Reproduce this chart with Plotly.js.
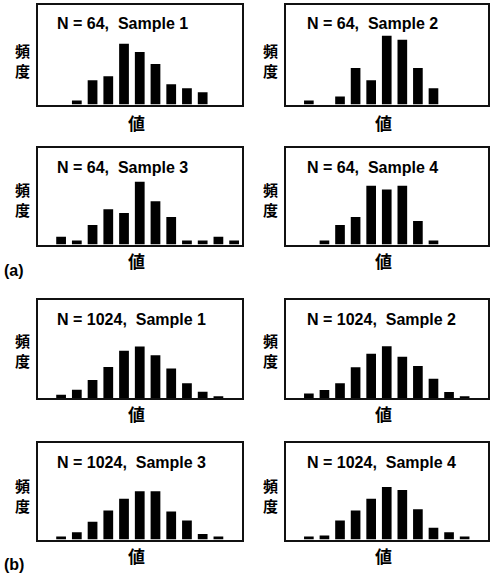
<!DOCTYPE html>
<html>
<head>
<meta charset="utf-8">
<script src="https://cdn.plot.ly/plotly-3.0.1.min.js"></script>
<style>html,body{margin:0;padding:0;background:#fff}#chart{width:492px;height:576px}</style>
</head>
<body>
<div id="chart"></div>
<script>
// ---- data (counts per bin, 13 bins) ----
const bins = [0,1,2,3,4,5,6,7,8,9,10,11,12];
const n64_s1 = [0,0,1,6,7,15,13,10,5,4,3,0,0];
const n64_s2 = [0,1,0,2,9,6,17,16,9,4,0,0,0];
const n64_s3 = [0,2,1,5,9,8,16,11,7,1,1,2,1];
const n64_s4 = [0,0,1,5,7,15,14,15,6,1,0,0,0];
const n1024_s1 = [0,13,33,73,125,190,208,172,119,59,25,7,0];
const n1024_s2 = [0,18,32,59,124,178,209,166,129,78,24,7,0];
const n1024_s3 = [0,12,30,73,119,167,198,197,115,78,23,12,0];
const n1024_s4 = [0,12,16,78,119,167,215,203,124,48,30,12,0];
const panelTitles = ["N = 64,\u00a0\u00a0Sample 1","N = 64,\u00a0\u00a0Sample 2","N = 64,\u00a0\u00a0Sample 3","N = 64,\u00a0\u00a0Sample 4",
                     "N = 1024,\u00a0\u00a0Sample 1","N = 1024,\u00a0\u00a0Sample 2","N = 1024,\u00a0\u00a0Sample 3","N = 1024,\u00a0\u00a0Sample 4"];
const yLabel = "頻<br>度", xLabel = "値";
const groupLabels = ["(a)","(b)"];

const series = [n64_s1,n64_s2,n64_s3,n64_s4,n1024_s1,n1024_s2,n1024_s3,n1024_s4];
const yMax = [24.6,24.6,24.6,24.6,395,395,395,395];

// ---- layout geometry (pixels) ----
const W = 492, H = 576;
const fx = p => p / W, fy = p => 1 - p / H;
const cols = [[37.5,242],[285.5,488]];
const rows = [[5,104.5],[148,244.5],[300,398],[443,539.5]];
const ylOff = [5.5,3.5,1.5,3.8];
const xlOff = [18,16,15.5,16];
const ylX = [22,270], xlX = [136,383];

const data = [], annotations = [];
const layout = {
  width: W, height: H, margin: {l:0,r:0,t:0,b:0},
  paper_bgcolor: '#fff', plot_bgcolor: '#fff', showlegend: false,
  font: {family: 'Liberation Sans, Arial, sans-serif', color: '#000'}
};
const cjkY = {family: 'Noto Sans CJK JP, sans-serif', size: 15, color: '#000', weight: 'bold'};
const cjkX = {family: 'Noto Sans CJK JP, sans-serif', size: 17, color: '#000', weight: 'bold'};

for (let i = 0; i < 8; i++) {
  const r = Math.floor(i / 2), c = i % 2;
  const sfx = i === 0 ? '' : String(i + 1);
  data.push({
    type: 'bar', x: bins, y: series[i], width: 0.62,
    marker: {color: '#000', line: {width: 0}},
    xaxis: 'x' + sfx, yaxis: 'y' + sfx, hoverinfo: 'skip'
  });
  const ax = {showline: true, mirror: true, linewidth: 2, linecolor: '#111',
              showgrid: false, zeroline: false, ticks: '', showticklabels: false, fixedrange: true};
  layout['xaxis' + sfx] = Object.assign({}, ax, {domain: [fx(cols[c][0]), fx(cols[c][1])], range: [-0.5, 12.5], anchor: 'y' + sfx});
  layout['yaxis' + sfx] = Object.assign({}, ax, {domain: [fy(rows[r][1]), fy(rows[r][0])], range: [0, yMax[i]], anchor: 'x' + sfx});

  const top = rows[r][0], bot = rows[r][1], mid = (top + bot) / 2;
  annotations.push({xref:'paper', yref:'paper', x: fx(cols[c][0] + (c ? 19.5 : 17.5)), y: fy(top + 19),
    xanchor:'left', yanchor:'middle', showarrow:false, text: panelTitles[i],
    font:{family:'Liberation Sans, Arial, sans-serif', size:16, color:'#000', weight:'bold'}});
  annotations.push({xref:'paper', yref:'paper', x: fx(ylX[c]), y: fy(mid + ylOff[r]), xanchor:'center', yanchor:'middle',
    showarrow:false, text: yLabel, font: cjkY});
  annotations.push({xref:'paper', yref:'paper', x: fx(xlX[c]), y: fy(bot + xlOff[r]), xanchor:'center', yanchor:'middle',
    showarrow:false, text: xLabel, font: cjkX});
}
annotations.push({xref:'paper', yref:'paper', x: fx(14), y: fy(270), xanchor:'center', yanchor:'middle', showarrow:false,
  text: groupLabels[0], font:{family:'Liberation Sans, Arial, sans-serif', size:16, color:'#000', weight:'bold'}});
annotations.push({xref:'paper', yref:'paper', x: fx(14), y: fy(564), xanchor:'center', yanchor:'middle', showarrow:false,
  text: groupLabels[1], font:{family:'Liberation Sans, Arial, sans-serif', size:16, color:'#000', weight:'bold'}});
layout.annotations = annotations;

Plotly.newPlot('chart', data, layout, {staticPlot: true, displayModeBar: false});
</script>
</body>
</html>
